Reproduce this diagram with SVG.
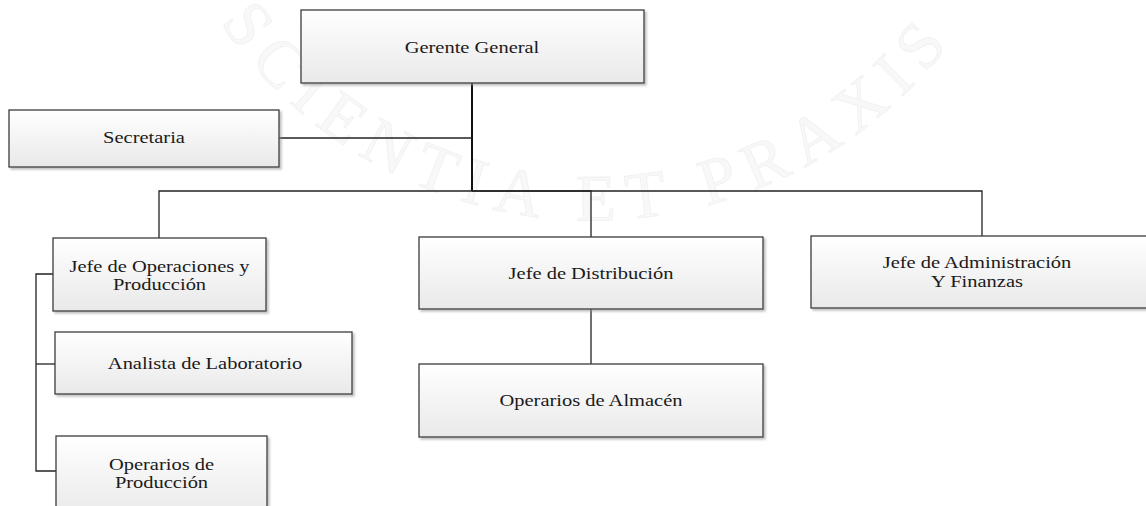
<svg xmlns="http://www.w3.org/2000/svg" width="1146" height="506" viewBox="0 0 1146 506">
  <defs>
    <linearGradient id="boxFill" x1="0" y1="0" x2="0" y2="1">
      <stop offset="0" stop-color="#ffffff"/>
      <stop offset="1" stop-color="#e9e9e9"/>
    </linearGradient>
    <filter id="shadow" x="-5%" y="-10%" width="115%" height="130%">
      <feDropShadow dx="2" dy="2" stdDeviation="0.8" flood-color="#8a8a8a" flood-opacity="0.55"/>
    </filter>
    <path id="sealArc" d="M 220 22 A 449 449 0 0 0 965 22"/>
  </defs>
  <style>
    .box { fill: url(#boxFill); stroke: #3c3c3c; stroke-width: 1.3; filter: url(#shadow); }
    .label { font-family: "Liberation Serif", "Times New Roman", serif; font-size: 16px; fill: #1a1a1a; text-anchor: middle; }
    .wire { fill: none; stroke: #222; stroke-width: 1.3; }
    .trunk { fill: none; stroke: #111; stroke-width: 2; }
    .seal { font-family: "Liberation Serif", serif; font-size: 66px; fill: #f8f8f8; stroke: #f0f0f0; stroke-width: 0.8; }
  </style>

  <rect width="1146" height="506" fill="#ffffff"/>

  <!-- faint seal lettering in the background -->
  <g id="seal">
    <text class="seal"><textPath href="#sealArc" textLength="850" lengthAdjust="spacing">SCIENTIA ET PRAXIS</textPath></text>
  </g>

  <!-- connectors -->
  <g id="connectors">
    <path class="trunk" d="M472 83 V191"/>
    <path class="wire" d="M279 138 H472"/>
    <path class="wire" d="M472 191 H159 V238"/>
    <path class="wire" d="M472 191 H591 V237"/>
    <path class="wire" d="M472 191 H982 V236"/>
    <path class="wire" d="M591 309 V364"/>
    <path class="wire" d="M53 274 H36 V471 H56"/>
    <path class="wire" d="M36 364 H55"/>
  </g>

  <g id="gerente-general">
    <rect class="box" x="301" y="10" width="343" height="73"/>
    <text class="label" transform="translate(472 53) scale(1.28 1)">Gerente General</text>
  </g>

  <g id="secretaria">
    <rect class="box" x="9" y="110" width="270" height="57"/>
    <text class="label" transform="translate(144 143) scale(1.28 1)">Secretaria</text>
  </g>

  <g id="jefe-operaciones">
    <rect class="box" x="53" y="238" width="213" height="73"/>
    <text class="label" transform="translate(159.5 272) scale(1.28 1)">Jefe de Operaciones y</text>
    <text class="label" transform="translate(159.5 290) scale(1.28 1)">Producción</text>
  </g>

  <g id="analista-laboratorio">
    <rect class="box" x="55" y="332" width="297" height="62"/>
    <text class="label" transform="translate(205 369) scale(1.28 1)">Analista de Laboratorio</text>
  </g>

  <g id="operarios-produccion">
    <rect class="box" x="56" y="436" width="211" height="82"/>
    <text class="label" transform="translate(161.5 470) scale(1.28 1)">Operarios de</text>
    <text class="label" transform="translate(161.5 488) scale(1.28 1)">Producción</text>
  </g>

  <g id="jefe-distribucion">
    <rect class="box" x="419" y="237" width="344" height="72"/>
    <text class="label" transform="translate(591 279) scale(1.28 1)">Jefe de Distribución</text>
  </g>

  <g id="operarios-almacen">
    <rect class="box" x="419" y="364" width="344" height="73"/>
    <text class="label" transform="translate(591 406) scale(1.28 1)">Operarios de Almacén</text>
  </g>

  <g id="jefe-administracion">
    <rect class="box" x="811" y="236" width="345" height="72"/>
    <text class="label" transform="translate(977 268) scale(1.28 1)">Jefe de Administración</text>
    <text class="label" transform="translate(977 287) scale(1.28 1)">Y Finanzas</text>
  </g>
</svg>
